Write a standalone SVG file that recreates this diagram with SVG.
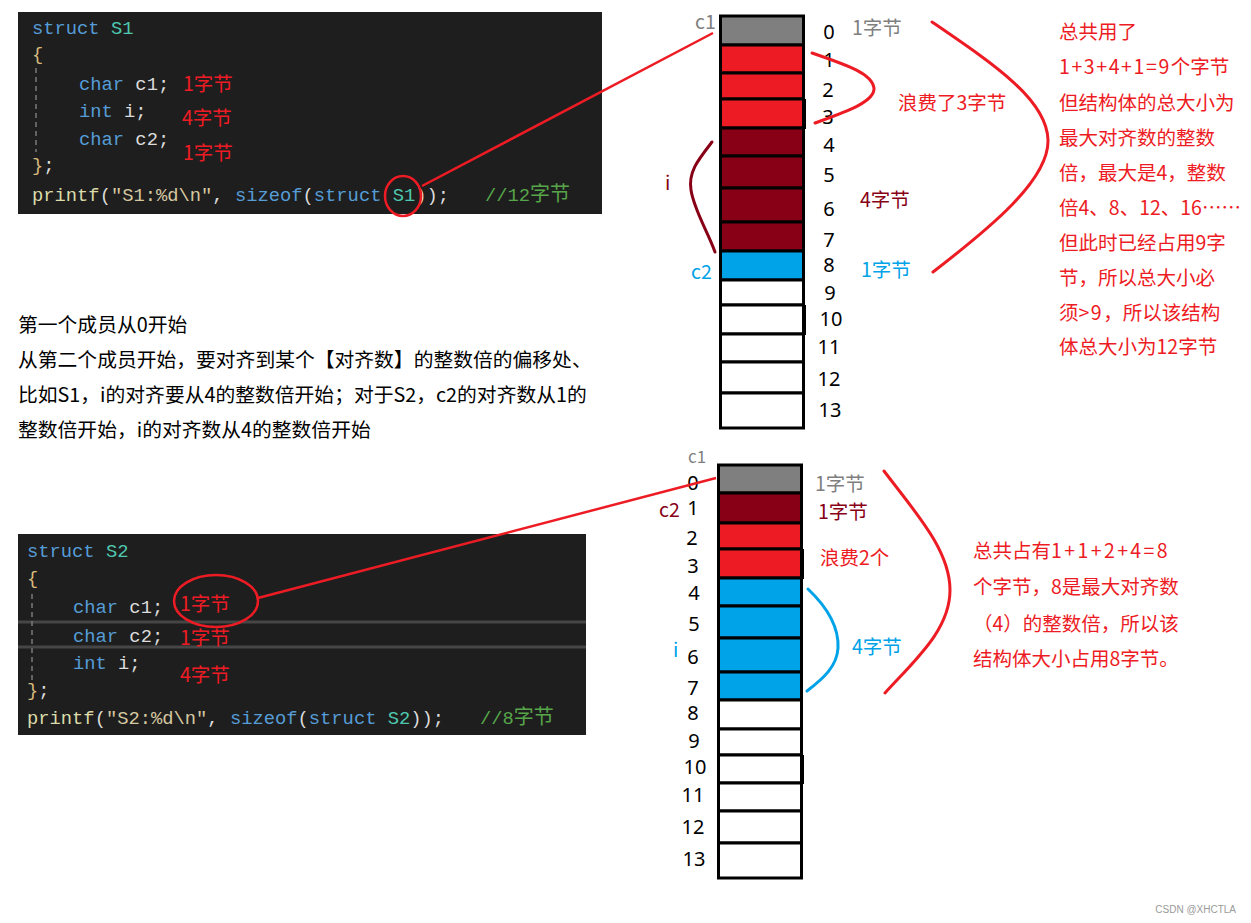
<svg xmlns="http://www.w3.org/2000/svg" width="1251" height="923" viewBox="0 0 1251 923">
<style>
.code{font-family:"Liberation Mono","DejaVu Sans Mono",monospace;font-size:18.8px;fill:#dcdcdc}
.kw{fill:#569cd6}.ty{fill:#4ec9b0}.br{fill:#d7ba7d}.fn{fill:#dcdcaa}.st{fill:#d6c8a0}.cm{fill:#57a64a}
.cn{font-family:"Noto Sans CJK SC","Noto Sans",sans-serif}
.lbl{font-size:19.5px}
.red{fill:#ed1c24}.dred{fill:#880015}.gray{fill:#7f7f7f}.blue{fill:#00a2e8}.blk{fill:#000}
.num{font-family:"Noto Sans","Noto Sans CJK SC",sans-serif;font-size:20px;fill:#000;text-anchor:middle}
.cell{stroke:#000;stroke-width:3}
.w{fill:#fff}.g{fill:#7f7f7f}.r{fill:#ed1c24}.d{fill:#880015}.b{fill:#00a2e8}
.curve{fill:none;stroke-width:3;stroke-linecap:round}
</style>

<g id="code-s1">
<rect x="18" y="12" width="584" height="202" fill="#1e1e1e"/>
<line x1="36" y1="68" x2="36" y2="152" stroke="#7a7a7a" stroke-width="1.5" stroke-dasharray="5,4"/>
<text class="code" x="32" y="34" xml:space="preserve"><tspan class="kw">struct</tspan> <tspan class="ty">S1</tspan></text>
<text class="code br" x="32" y="60">{</text>
<text class="code" x="79" y="90" xml:space="preserve"><tspan class="kw">char</tspan> c1;</text>
<text class="code" x="79" y="117" xml:space="preserve"><tspan class="kw">int</tspan> i;</text>
<text class="code" x="79" y="145" xml:space="preserve"><tspan class="kw">char</tspan> c2;</text>
<text class="code" x="32" y="171"><tspan class="br">}</tspan>;</text>
<text class="code" x="32" y="201" xml:space="preserve"><tspan class="fn">printf</tspan>(<tspan class="st">"S1:%d\n"</tspan>, <tspan class="kw">sizeof</tspan>(<tspan class="kw">struct</tspan> <tspan class="ty">S1</tspan>));</text>
<text class="code cm" x="485" y="201">//12<tspan class="cn" font-size="20">字节</tspan></text>
<text class="cn red lbl" x="183" y="91">1字节</text>
<text class="cn red lbl" x="182" y="125">4字节</text>
<text class="cn red lbl" x="183" y="160">1字节</text>
<ellipse cx="403" cy="196" rx="18" ry="20" fill="none" stroke="#ed1c24" stroke-width="2.5"/>
</g>

<g id="code-s2">
<rect x="18" y="534" width="568" height="201" fill="#1e1e1e"/>
<line x1="18" y1="622" x2="586" y2="622" stroke="#464646" stroke-width="3"/>
<line x1="18" y1="647" x2="586" y2="647" stroke="#464646" stroke-width="3"/>
<line x1="32" y1="594" x2="32" y2="680" stroke="#7a7a7a" stroke-width="1.5" stroke-dasharray="5,4"/>
<text class="code" x="27" y="557" xml:space="preserve"><tspan class="kw">struct</tspan> <tspan class="ty">S2</tspan></text>
<text class="code br" x="27" y="584">{</text>
<text class="code" x="73" y="613" xml:space="preserve"><tspan class="kw">char</tspan> c1;</text>
<text class="code" x="73" y="642" xml:space="preserve"><tspan class="kw">char</tspan> c2;</text>
<text class="code" x="73" y="669" xml:space="preserve"><tspan class="kw">int</tspan> i;</text>
<text class="code" x="27" y="696"><tspan class="br">}</tspan>;</text>
<text class="code" x="27" y="724" xml:space="preserve"><tspan class="fn">printf</tspan>(<tspan class="st">"S2:%d\n"</tspan>, <tspan class="kw">sizeof</tspan>(<tspan class="kw">struct</tspan> <tspan class="ty">S2</tspan>));</text>
<text class="code cm" x="480" y="724">//8<tspan class="cn" font-size="20">字节</tspan></text>
<text class="cn red lbl" x="180" y="611">1字节</text>
<text class="cn red lbl" x="180" y="645">1字节</text>
<text class="cn red lbl" x="180" y="682">4字节</text>
<ellipse cx="216" cy="601" rx="42" ry="26" fill="none" stroke="#ed1c24" stroke-width="2.5"/>
</g>

<g id="rules-text">
<text class="cn blk" x="18" y="332" font-size="19.8">第一个成员从0开始</text>
<text class="cn blk" x="18" y="367" font-size="19.8">从第二个成员开始，要对齐到某个【对齐数】的整数倍的偏移处、</text>
<text class="cn blk" x="18" y="402" font-size="19.8">比如S1，i的对齐要从4的整数倍开始；对于S2，c2的对齐数从1的</text>
<text class="cn blk" x="18" y="437" font-size="19.8">整数倍开始，i的对齐数从4的整数倍开始</text>
</g>

<g id="memory-s1">
<rect class="cell g" x="720.5" y="16" width="83" height="29"/>
<rect class="cell r" x="720.5" y="45" width="83" height="28"/>
<rect class="cell r" x="720.5" y="73" width="83" height="26"/>
<rect class="cell r" x="720.5" y="99" width="83" height="29"/>
<rect class="cell d" x="720.5" y="128" width="83" height="28"/>
<rect class="cell d" x="720.5" y="156" width="83" height="32"/>
<rect class="cell d" x="720.5" y="188" width="83" height="34"/>
<rect class="cell d" x="720.5" y="222" width="83" height="29"/>
<rect class="cell b" x="720.5" y="251" width="83" height="29"/>
<rect class="cell w" x="720.5" y="280" width="83" height="25"/>
<rect class="cell w" x="720.5" y="305" width="83" height="29"/>
<rect class="cell w" x="720.5" y="334" width="83" height="28"/>
<rect class="cell w" x="720.5" y="362" width="83" height="31"/>
<rect class="cell w" x="720.5" y="393" width="83" height="35"/>
<rect x="802" y="99" width="4" height="30" fill="#000"/>
<rect x="802" y="305" width="4" height="30" fill="#000"/>
<text class="num" x="829" y="39">0</text>
<text class="num" x="829" y="67">1</text>
<text class="num" x="828" y="97">2</text>
<text class="num" x="828" y="124">3</text>
<text class="num" x="829" y="152">4</text>
<text class="num" x="829" y="182">5</text>
<text class="num" x="829" y="216">6</text>
<text class="num" x="829" y="247">7</text>
<text class="num" x="829" y="272">8</text>
<text class="num" x="830" y="300">9</text>
<text class="num" x="831" y="326">10</text>
<text class="num" x="829" y="354">11</text>
<text class="num" x="829" y="386">12</text>
<text class="num" x="830" y="417">13</text>
<text class="cn gray lbl" x="695" y="29">c1</text>
<text class="cn blue lbl" x="691" y="279">c2</text>
<text class="cn dred lbl" x="665" y="190">i</text>
<text class="cn gray lbl" x="852" y="35">1字节</text>
<text class="cn dred lbl" x="860" y="207">4字节</text>
<text class="cn blue lbl" x="861" y="277">1字节</text>
<text class="cn red lbl" x="898" y="110">浪费了3字节</text>
</g>

<g id="memory-s2">
<rect class="cell g" x="718.5" y="465" width="83" height="28"/>
<rect class="cell d" x="718.5" y="493" width="83" height="30"/>
<rect class="cell r" x="718.5" y="523" width="83" height="26"/>
<rect class="cell r" x="718.5" y="549" width="83" height="29"/>
<rect class="cell b" x="718.5" y="578" width="83" height="28"/>
<rect class="cell b" x="718.5" y="606" width="83" height="32"/>
<rect class="cell b" x="718.5" y="638" width="83" height="34"/>
<rect class="cell b" x="718.5" y="672" width="83" height="28"/>
<rect class="cell w" x="718.5" y="700" width="83" height="29"/>
<rect class="cell w" x="718.5" y="729" width="83" height="26"/>
<rect class="cell w" x="718.5" y="755" width="83" height="28"/>
<rect class="cell w" x="718.5" y="783" width="83" height="28"/>
<rect class="cell w" x="718.5" y="811" width="83" height="32"/>
<rect class="cell w" x="718.5" y="843" width="83" height="35"/>
<rect x="800" y="549" width="4" height="30" fill="#000"/>
<rect x="800" y="755" width="4" height="29" fill="#000"/>
<text class="num" x="693" y="490">0</text>
<text class="num" x="693" y="515">1</text>
<text class="num" x="692" y="545">2</text>
<text class="num" x="693" y="573">3</text>
<text class="num" x="694" y="600">4</text>
<text class="num" x="694" y="631">5</text>
<text class="num" x="693" y="664">6</text>
<text class="num" x="693" y="695">7</text>
<text class="num" x="693" y="720">8</text>
<text class="num" x="694" y="748">9</text>
<text class="num" x="695" y="774">10</text>
<text class="num" x="693" y="802">11</text>
<text class="num" x="693" y="834">12</text>
<text class="num" x="694" y="866">13</text>
<text class="cn gray" font-size="17" x="688" y="463">c1</text>
<text class="cn dred lbl" x="659" y="517">c2</text>
<text class="cn blue lbl" x="673" y="657">i</text>
<text class="cn gray lbl" x="815" y="491">1字节</text>
<text class="cn dred lbl" x="818" y="519">1字节</text>
<text class="cn red lbl" x="820" y="565">浪费2个</text>
<text class="cn blue lbl" x="852" y="654">4字节</text>
</g>

<g id="summary-s1">
<text class="cn red lbl" x="1059" y="39">总共用了</text>
<text class="cn red lbl" x="1059" y="74"><tspan letter-spacing="1.6">1+3+4+1=9</tspan>个字节</text>
<text class="cn red lbl" x="1059" y="110">但结构体的总大小为</text>
<text class="cn red lbl" x="1059" y="145">最大对齐数的整数</text>
<text class="cn red lbl" x="1059" y="180">倍，最大是4，整数</text>
<text class="cn red lbl" x="1059" y="215">倍4、8、12、16……</text>
<text class="cn red lbl" x="1059" y="250">但此时已经占用9字</text>
<text class="cn red lbl" x="1059" y="285">节，所以总大小必</text>
<text class="cn red lbl" x="1059" y="320">须<tspan letter-spacing="1.5">&gt;9</tspan>，所以该结构</text>
<text class="cn red lbl" x="1059" y="354">体总大小为12字节</text>
</g>

<g id="summary-s2">
<text class="cn red lbl" x="973" y="558">总共占有<tspan letter-spacing="2.4">1+1+2+4=8</tspan></text>
<text class="cn red lbl" x="973" y="594">个字节，8是最大对齐数</text>
<text class="cn red lbl" x="973" y="631">（4）的整数倍，所以该</text>
<text class="cn red lbl" x="973" y="666">结构体大小占用8字节。</text>
</g>

<g id="connectors">
<line x1="422" y1="186" x2="713" y2="33" stroke="#ed1c24" stroke-width="2.5"/>
<line x1="258" y1="598" x2="716" y2="478" stroke="#ed1c24" stroke-width="2.5"/>
<path class="curve" stroke="#ed1c24" d="M812,53 C850,66 872,74 874,88 C875,102 845,112 815,123"/>
<path class="curve" stroke="#880015" d="M712,142 C698,160 688,172 691,190 C694,210 708,232 715,252"/>
<path class="curve" stroke="#ed1c24" d="M932,22 C995,65 1047,100 1048,140 C1049,180 990,228 933,272"/>
<path class="curve" stroke="#00a2e8" d="M808,589 C828,608 839,628 838,648 C837,666 824,678 807,691"/>
<path class="curve" stroke="#ed1c24" d="M884,471 C915,512 950,550 950,590 C950,630 915,660 885,693"/>
</g>

<text x="1236" y="913" text-anchor="end" font-family="Liberation Sans,sans-serif" font-size="10" fill="#9a9a9a">CSDN @XHCTLA</text>
</svg>
